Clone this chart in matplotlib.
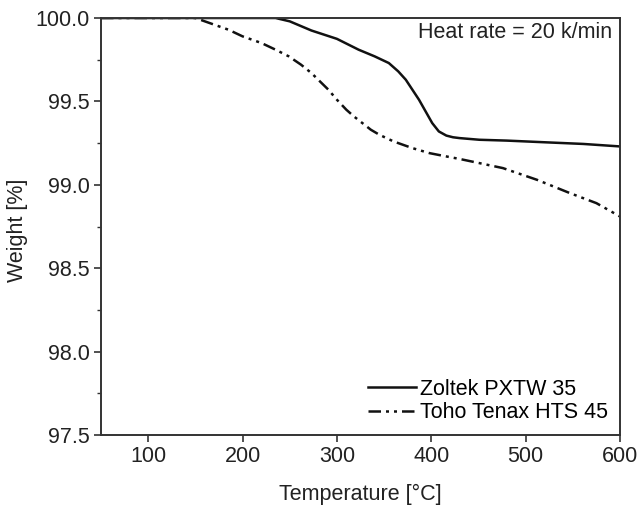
"""TGA curves of two carbon fibre types at 20 K/min."""

import matplotlib
matplotlib.use("Agg")
import matplotlib.pyplot as plt
from matplotlib.ticker import MultipleLocator

plt.rcParams["font.family"] = ["Liberation Sans", "DejaVu Sans"]

# Zoltek PXTW 35 (solid)
zoltek_temp = [50, 150, 235, 250, 273, 300, 323, 340, 355, 365, 373, 380, 387,
               394, 401, 408, 416, 423, 430, 451, 480, 520, 561, 600]
zoltek_weight = [100.0, 100.0, 100.0, 99.98, 99.925, 99.875, 99.81, 99.77, 99.73,
                 99.68, 99.63, 99.57, 99.51, 99.44, 99.37, 99.32, 99.295, 99.285,
                 99.28, 99.27, 99.265, 99.255, 99.245, 99.23]

# Toho Tenax HTS 45 (dash-dot-dot)
toho_temp = [50, 150, 165, 185, 200, 220, 235, 249, 262, 273, 291, 300, 310,
             318, 327, 336, 345, 360, 380, 398, 416, 430, 451, 476, 512, 547,
             575, 600]
toho_weight = [100.0, 100.0, 99.97, 99.93, 99.89, 99.85, 99.81, 99.77, 99.72,
               99.67, 99.57, 99.51, 99.45, 99.41, 99.37, 99.33, 99.30, 99.26,
               99.22, 99.19, 99.17, 99.155, 99.13, 99.10, 99.03, 98.95, 98.89,
               98.81]

x_ticks = [100, 200, 300, 400, 500, 600]
y_ticks = [97.5, 98.0, 98.5, 99.0, 99.5, 100.0]

FS = 15.5


def main() -> None:
    fig = plt.figure(figsize=(6.39, 5.09), dpi=100)
    ax = fig.add_axes([101 / 639, 1 - 435 / 509, (620 - 101) / 639, (435 - 18) / 509])

    ax.plot(zoltek_temp, zoltek_weight, color="#111111", linewidth=1.8,
            label="Zoltek PXTW 35")
    ax.plot(toho_temp, toho_weight, color="#111111", linewidth=1.8,
            linestyle=(0, (5, 2, 1.2, 2, 1.2, 2)), label="Toho Tenax HTS 45")

    ax.set_xlim(50, 600)
    ax.set_ylim(97.5, 100.0)
    ax.set_xticks(x_ticks)
    ax.set_yticks(y_ticks)
    ax.set_yticklabels([f"{v:.1f}" for v in y_ticks])
    ax.yaxis.set_minor_locator(MultipleLocator(0.25))
    ax.tick_params(axis="both", which="major", direction="out", length=5, width=1.2,
                   labelsize=FS, color="#333333", labelcolor="#222222", pad=3)
    ax.tick_params(axis="y", which="minor", direction="out", length=3, width=1.0,
                   color="#333333")
    for spine in ax.spines.values():
        spine.set_linewidth(1.4)
        spine.set_color("#333333")

    ax.set_xlabel("Temperature [°C]", fontsize=FS, color="#222222", labelpad=12)
    ax.set_ylabel("Weight [%]", fontsize=FS, color="#222222")
    ax.yaxis.set_label_coords(-0.14, 0.49)

    ax.text(0.985, 0.99, "Heat rate = 20 k/min", transform=ax.transAxes,
            ha="right", va="top", fontsize=FS, color="#222222")

    ax.legend(loc="lower right", frameon=False, fontsize=FS, handlelength=2.2,
              handletextpad=0.2, borderaxespad=0.15, labelspacing=0.1)

    fig.savefig("out.png", dpi=100)


if __name__ == "__main__":
    main()
